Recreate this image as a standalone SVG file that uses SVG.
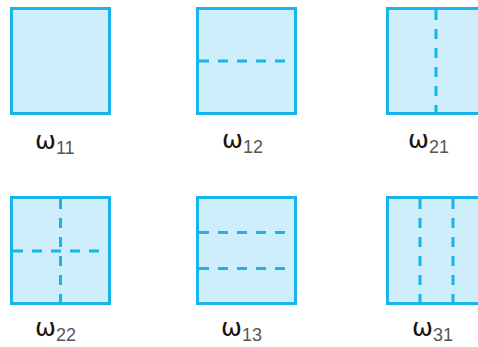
<svg xmlns="http://www.w3.org/2000/svg" width="478" height="347" viewBox="0 0 478 347">
<style>
.box{fill:#cdeefa;stroke:#18b4ea;stroke-width:3}
.dash{stroke:#18b4ea;stroke-width:3;stroke-dasharray:10 9;fill:none}
.om{font-family:"DejaVu Sans",sans-serif;font-size:25px;fill:#1a1410}
.sub{font-family:"Liberation Sans",sans-serif;font-size:18px;fill:#555}
</style>
<rect width="478" height="347" fill="#fff"/>
<g id="w11">
<rect class="box" x="11.5" y="8.5" width="98" height="105"/>
<text x="35" y="149" class="om">ω<tspan class="sub" dy="5">11</tspan></text>
</g>
<g id="w12">
<rect class="box" x="197.5" y="8.5" width="98" height="105"/>
<line class="dash" x1="199" y1="61" x2="294" y2="61"/>
<text x="222" y="148" class="om">ω<tspan class="sub" dy="5">12</tspan></text>
</g>
<g id="w21">
<rect class="box" x="387.5" y="8.5" width="98" height="105"/>
<line class="dash" x1="436" y1="10" x2="436" y2="112"/>
<text x="408" y="148" class="om">ω<tspan class="sub" dy="5">21</tspan></text>
</g>
<g id="w22">
<rect class="box" x="11.5" y="197.5" width="98" height="106"/>
<line class="dash" x1="13" y1="251" x2="108" y2="251"/>
<line class="dash" x1="60.5" y1="199" x2="60.5" y2="302"/>
<text x="35" y="336" class="om">ω<tspan class="sub" dy="5">22</tspan></text>
</g>
<g id="w13">
<rect class="box" x="197.5" y="197.5" width="98" height="106"/>
<line class="dash" x1="199" y1="232.5" x2="294" y2="232.5"/>
<line class="dash" x1="199" y1="268.5" x2="294" y2="268.5"/>
<text x="221" y="336" class="om">ω<tspan class="sub" dy="5">13</tspan></text>
</g>
<g id="w31">
<rect class="box" x="387.5" y="197.5" width="98" height="106"/>
<line class="dash" x1="420" y1="199" x2="420" y2="302"/>
<line class="dash" x1="453" y1="199" x2="453" y2="302"/>
<text x="412" y="336" class="om">ω<tspan class="sub" dy="5">31</tspan></text>
</g>
</svg>
